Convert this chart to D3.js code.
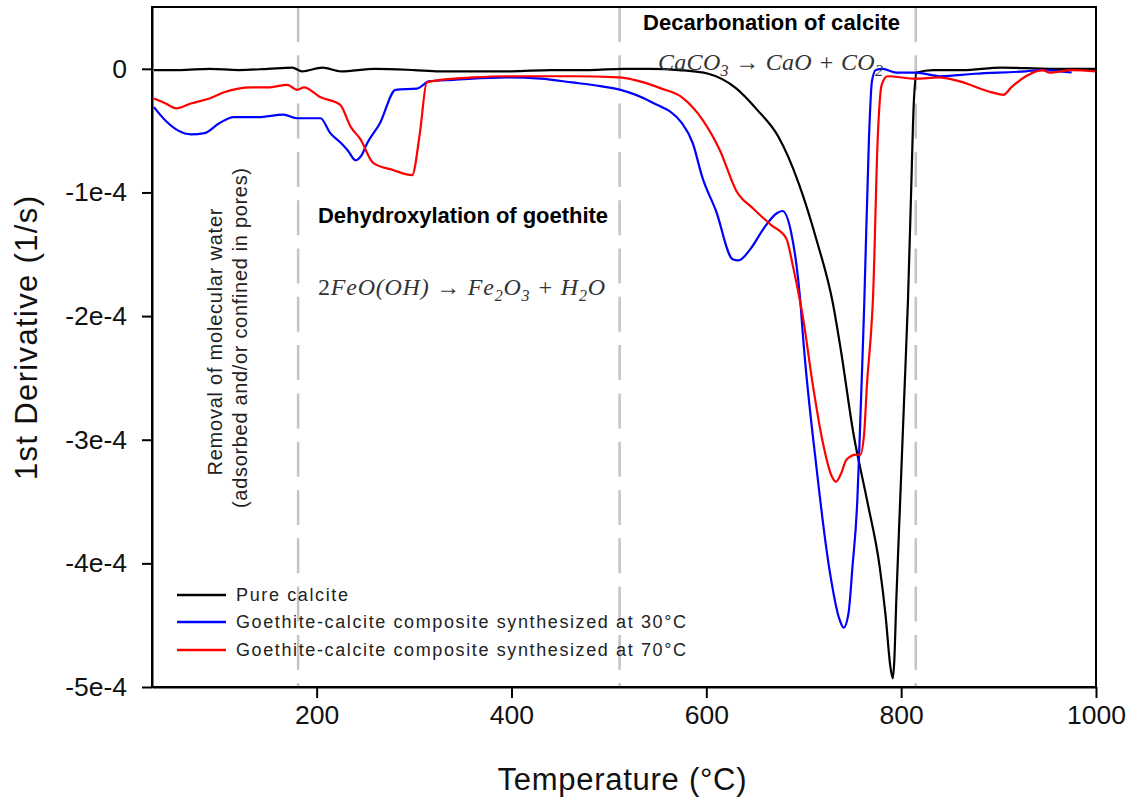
<!DOCTYPE html>
<html>
<head>
<meta charset="utf-8">
<title>DTG curves goethite-calcite</title>
<script src="https://d3js.org/d3.v7.min.js"></script>
<style>
  body { margin: 0; background: #fff; }
  svg { display: block; font-family: "Liberation Sans", Arial, sans-serif; }
  .tick text { font-family: "Liberation Sans", Arial, sans-serif; }
  .formula { font-family: "Liberation Serif", "Times New Roman", serif; font-style: italic; fill: #333; }
</style>
</head>
<body>
<script>
// temperature (°C), 1st derivative in units of 1e-4 (1/s)
var pureCalcite = [
  [33,-0.01],[60,-0.01],[90,0],[120,-0.01],[150,0],[175,0.01],[185,-0.02],[206,0.01],[225,-0.02],
  [260,0],[300,-0.01],[326,-0.02],[360,-0.02],[400,-0.02],[440,-0.01],[480,-0.01],[515,0],[542,0],
  [572,-0.01],[602,-0.04],[631,-0.16],[652,-0.33],[674,-0.55],[695,-0.93],[713,-1.38],[730,-1.9],
  [738,-2.27],[751,-2.95],[765,-3.49],[778,-4.03],[784,-4.42],[789,-4.84],[791.5,-4.93],[793,-4.78],
  [795,-4.3],[799,-3.49],[803,-2.68],[807,-1.87],[810,-1.06],[813,-0.27],
  [816,-0.03],[833,-0.01],[863,-0.01],[903,0.01],[953,0],[1000,0]
];
var composite30 = [
  [33,-0.31],[45,-0.42],[58,-0.50],[71,-0.53],[85,-0.52],[100,-0.44],[115,-0.39],[140,-0.39],
  [166,-0.37],[180,-0.40],[204,-0.40],[214,-0.52],[225,-0.60],[232,-0.66],[240,-0.74],[246,-0.70],
  [252,-0.60],[265,-0.44],[281,-0.17],[303,-0.16],[316,-0.10],[340,-0.09],[395,-0.07],[430,-0.08],
  [462,-0.11],[491,-0.14],[512,-0.17],[544,-0.27],[575,-0.44],[586,-0.60],[596,-0.88],[610,-1.15],
  [627,-1.54],[633,-1.55],[645,-1.46],[659,-1.29],[672,-1.17],[678,-1.15],[687,-1.32],[697,-1.93],
  [699,-2.14],[713,-3.22],[726,-4.03],[737,-4.46],[741,-4.52],[746,-4.40],[750,-4.03],[755,-3.49],
  [757,-3.08],[760,-2.41],[762,-1.93],[767,-0.55],[770,-0.10],[774,-0.01],[781,0],[795,-0.03],
  [815,-0.03],[840,-0.06],[875,-0.04],[928,-0.02],[945,-0.01],[975,-0.03]
];
var composite70 = [
  [33,-0.24],[45,-0.28],[56,-0.32],[71,-0.28],[90,-0.24],[105,-0.19],[133,-0.15],[150,-0.15],
  [170,-0.13],[180,-0.17],[187,-0.15],[204,-0.23],[224,-0.29],[235,-0.47],[245,-0.57],[258,-0.76],
  [279,-0.82],[298,-0.86],[306,-0.52],[313,-0.11],[327,-0.09],[360,-0.07],[395,-0.06],[462,-0.06],
  [511,-0.07],[526,-0.09],[554,-0.16],[575,-0.23],[596,-0.41],[614,-0.66],[631,-0.99],[648,-1.13],
  [666,-1.26],[682,-1.37],[689,-1.6],[696,-1.87],[699,-2.0],[709,-2.54],[719,-3.0],[729,-3.30],
  [733,-3.34],[738,-3.28],[744,-3.16],[754,-3.12],[758,-3.12],[762,-2.95],[765,-2.54],[769,-2.14],
  [771,-1.87],[776,-0.55],[780,-0.13],[786,-0.06],[815,-0.08],[839,-0.07],[859,-0.10],[893,-0.19],
  [905,-0.21],[913,-0.15],[928,-0.06],[945,-0.01],[952,-0.03],[975,-0.01],[1000,-0.02]
];
var seriesNames = ["Pure calcite",
  "Goethite-calcite composite synthesized at 30\u00B0C",
  "Goethite-calcite composite synthesized at 70\u00B0C"];
var seriesColors = ["#000000", "#0000ff", "#ff0000"];
var xTicks = [200, 400, 600, 800, 1000];
var yTicks = [0, -1, -2, -3, -4, -5];
var stageBounds = [181, 511, 815];

var w = 1133, h = 803;
var pLeft = 152, pRight = 1096, pTop = 7, pBottom = 687;

var svg = d3.select("body").append("svg").attr("width", w).attr("height", h);

var x = d3.scaleLinear().domain([31, 1000]).range([pLeft, pRight]);
var y = d3.scaleLinear().domain([-5, 0.5]).range([pBottom, pTop]);

// stage separators
svg.selectAll("line.stage")
   .data(stageBounds)
   .enter().append("line")
   .attr("class", "stage")
   .attr("x1", function (d) { return x(d); })
   .attr("x2", function (d) { return x(d); })
   .attr("y1", pTop)
   .attr("y2", pBottom)
   .attr("stroke", "#c4c4c4")
   .attr("stroke-width", 2.5)
   .attr("stroke-dasharray", "35,13.3");

var line = d3.line()
  .x(function (d) { return x(d[0]); })
  .y(function (d) { return y(d[1]); })
  .curve(d3.curveMonotoneX);

var allSeries = [pureCalcite, composite30, composite70];
svg.selectAll("path.curve")
   .data(allSeries)
   .enter().append("path")
   .attr("class", "curve")
   .attr("d", line)
   .attr("fill", "none")
   .attr("stroke", function (d, i) { return seriesColors[i]; })
   .attr("stroke-width", 2.2)
   .attr("stroke-linejoin", "round");

// frame
svg.append("rect")
   .attr("x", pLeft).attr("y", pTop)
   .attr("width", pRight - pLeft).attr("height", pBottom - pTop)
   .attr("fill", "none").attr("stroke", "#000").attr("stroke-width", 2);

var xAxis = svg.append("g")
  .attr("transform", "translate(0," + pBottom + ")")
  .call(d3.axisBottom(x).tickValues(xTicks).tickSize(11).tickSizeOuter(0).tickPadding(7)
    .tickFormat(d3.format("d")));
var yAxis = svg.append("g")
  .attr("transform", "translate(" + pLeft + ",0)")
  .call(d3.axisLeft(y).tickValues(yTicks).tickSize(10).tickSizeOuter(0).tickPadding(15)
    .tickFormat(function (d) { return d === 0 ? "0" : d + "e-4"; }));

[xAxis, yAxis].forEach(function (g) {
  g.select(".domain").attr("stroke-width", 2);
  g.selectAll(".tick line").attr("stroke-width", 2);
  g.selectAll(".tick text").attr("font-size", 26.5).attr("fill", "#111");
});

// axis titles
svg.append("text")
   .attr("x", 622).attr("y", 790)
   .attr("text-anchor", "middle")
   .attr("font-size", 31)
   .attr("textLength", 249)
   .attr("fill", "#111")
   .text("Temperature (\u00B0C)");

svg.append("text")
   .attr("transform", "translate(37,338) rotate(-90)")
   .attr("text-anchor", "middle")
   .attr("font-size", 31)
   .attr("textLength", 284)
   .attr("fill", "#111")
   .text("1st Derivative (1/s)");

// annotations
svg.append("text")
   .attr("x", 643).attr("y", 30)
   .attr("font-size", 22).attr("font-weight", "bold")
   .attr("textLength", 257)
   .text("Decarbonation of calcite");

svg.append("text")
   .attr("x", 318).attr("y", 223)
   .attr("font-size", 22).attr("font-weight", "bold")
   .attr("textLength", 290)
   .text("Dehydroxylation of goethite");

var f1 = svg.append("text").attr("class", "formula")
   .attr("x", 658).attr("y", 70).attr("font-size", 24).attr("textLength", 225);
f1.append("tspan").text("CaCO");
f1.append("tspan").attr("font-size", 16).attr("dy", 6).text("3");
f1.append("tspan").attr("dy", -6).attr("font-style", "normal").text(" \u2192 ");
f1.append("tspan").text("CaO + CO");
f1.append("tspan").attr("font-size", 16).attr("dy", 6).text("2");

var f2 = svg.append("text").attr("class", "formula")
   .attr("x", 318).attr("y", 295).attr("font-size", 24).attr("textLength", 287);
f2.append("tspan").attr("font-style", "normal").text("2");
f2.append("tspan").text("FeO(OH) ");
f2.append("tspan").attr("font-style", "normal").text("\u2192 ");
f2.append("tspan").text("Fe");
f2.append("tspan").attr("font-size", 16).attr("dy", 6).text("2");
f2.append("tspan").attr("dy", -6).text("O");
f2.append("tspan").attr("font-size", 16).attr("dy", 6).text("3");
f2.append("tspan").attr("dy", -6).text(" + H");
f2.append("tspan").attr("font-size", 16).attr("dy", 6).text("2");
f2.append("tspan").attr("dy", -6).text("O");

svg.append("text")
   .attr("transform", "translate(222,342) rotate(-90)")
   .attr("text-anchor", "middle").attr("font-size", 20)
   .attr("textLength", 267).attr("fill", "#222")
   .text("Removal of molecular water");
svg.append("text")
   .attr("transform", "translate(247,338) rotate(-90)")
   .attr("text-anchor", "middle").attr("font-size", 20)
   .attr("textLength", 340).attr("fill", "#222")
   .text("(adsorbed and/or confined in pores)");

// legend
var legendY = [595, 622, 650];
var legendLen = [112, 450, 450];
var legend = svg.selectAll("g.legend")
  .data(seriesNames)
  .enter().append("g")
  .attr("class", "legend")
  .attr("transform", function (d, i) { return "translate(177," + legendY[i] + ")"; });
legend.append("line")
  .attr("x1", 0).attr("x2", 49)
  .attr("stroke", function (d, i) { return seriesColors[i]; })
  .attr("stroke-width", 2.5);
legend.append("text")
  .attr("x", 59).attr("dy", "0.35em")
  .attr("font-size", 18).attr("fill", "#222")
  .attr("textLength", function (d, i) { return legendLen[i]; })
  .text(function (d) { return d; });
</script>
</body>
</html>
